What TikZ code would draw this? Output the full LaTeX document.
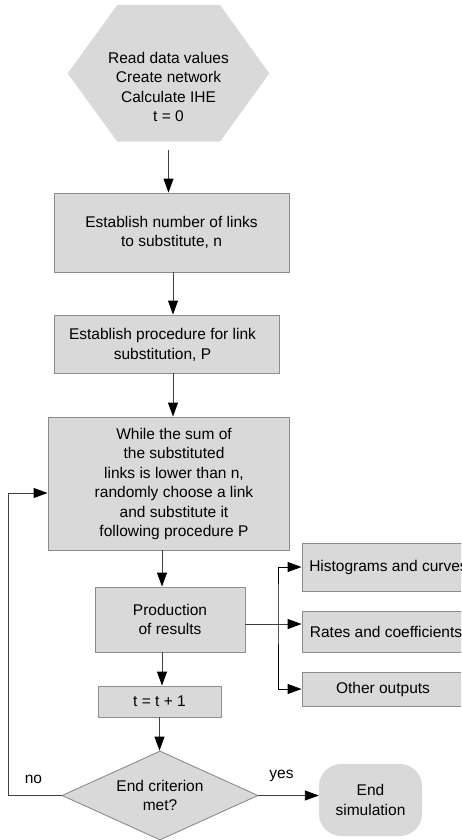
\documentclass[tikz,border=0pt]{standalone}
\usepackage{fontspec}
\setmainfont{Liberation Sans}
\usetikzlibrary{arrows.meta,shapes.geometric,calc}
\definecolor{boxfill}{HTML}{D9D9D9}
\definecolor{boxline}{HTML}{8C8C8C}
\definecolor{conn}{HTML}{404040}
\begin{document}
\begin{tikzpicture}[x=1pt,y=-1pt,
  every node/.style={font=\fontsize{15.5}{19.4}\selectfont, align=center, inner sep=0pt},
  box/.style={draw=boxline, fill=boxfill, line width=0.9pt},
  dec/.style={shape=diamond, draw=boxline, fill=boxfill, line width=0.9pt, shape aspect=2.2},
  term/.style={fill=boxfill, rounded corners=22pt},
  arr/.style={draw=conn, line width=0.9pt, -{Triangle[length=14pt,width=10pt,color=black]}},
  split/.style={draw=black, line width=0.9pt, {Triangle[length=14pt,width=10pt]}-{Triangle[length=14pt,width=10pt]}}
]
\useasboundingbox (0,0) rectangle (461,840);
\clip (0,0) rectangle (461,840);

% start hexagon
\fill[boxfill] (67.7,73.4) -- (117.3,5) -- (220,5) -- (269.3,73.4) -- (220,141.7) -- (117.3,141.7) -- cycle;
\node[minimum height=118pt] (hex) at (168.5,87) {Read data values\\Create network\\Calculate IHE\\t = 0};

\node[box, minimum width=235pt, minimum height=79pt] (box1) at (171.5,232.5) {Establish number of links\\to substitute, n};

\node[box, minimum width=225pt, minimum height=58pt] (box2) at (166.5,344) {};
\node (t2) at (162.5,345) {Establish procedure for link\\substitution, P};

\node[box, minimum width=241pt, minimum height=133pt] (box3) at (168.5,483.5) {};
\node (t3) at (174,484) {While the sum of\\the substituted\\links is lower than n,\\randomly choose a link\\and substitute it\\following procedure P};

\node[box, minimum width=150pt, minimum height=65pt] (box4) at (170,619.5) {Production\\of results};

\node[box, minimum width=123pt, minimum height=31pt] (box5) at (159.5,701.5) {t = t + 1};

\node[dec, minimum width=196pt, minimum height=89pt] (dia) at (160,795.5) {End criterion\\met?};

\node[term, minimum width=103pt, minimum height=72pt] (endn) at (370.5,800) {End\\simulation};

\node[box, minimum width=173pt, minimum height=48pt] (hist) at (388.5,567) {Histograms and curves};
\node[box, minimum width=168pt, minimum height=41pt] (rates) at (386,631.5) {Rates and coefficients};
\node[box, minimum width=162pt, minimum height=34pt] (other) at (383,689) {Other outputs};

\node (lno) at (33.5,779) {no};
\node (lyes) at (281.5,776) {yes};

\coordinate (c1) at (278,600);

% connectors
\draw[arr] ([yshift=-4pt]hex.south) -- (hex.south |- box1.north);
\draw[arr] ([xshift=1.5pt]box1.south) -- ([xshift=1.5pt]box1.south |- box2.north);
\draw[arr] ([xshift=6.5pt]box2.south) -- ([xshift=6.5pt]box2.south |- box3.north);
\draw[arr] ([xshift=-6.5pt]box3.south) -- ([xshift=-6.5pt]box3.south |- box4.north);
\draw[arr] ([xshift=-8pt]box4.south) -- ([xshift=-8pt]box4.south |- box5.north);
\draw[arr] (box5.south) -- (box5.south |- dia.north);
\draw[arr] (dia.east) -- (dia.east -| endn.west);
\draw[arr] (dia.west) -- ++(-53,0) |- ([yshift=-9.5pt]box3.west);
\draw[arr] ([yshift=-4.5pt]box4.east) -- ([yshift=-4.5pt]box4.east -| rates.west);
\draw[split] (hist.west) -| (c1) |- (other.west);
\end{tikzpicture}
\end{document}
